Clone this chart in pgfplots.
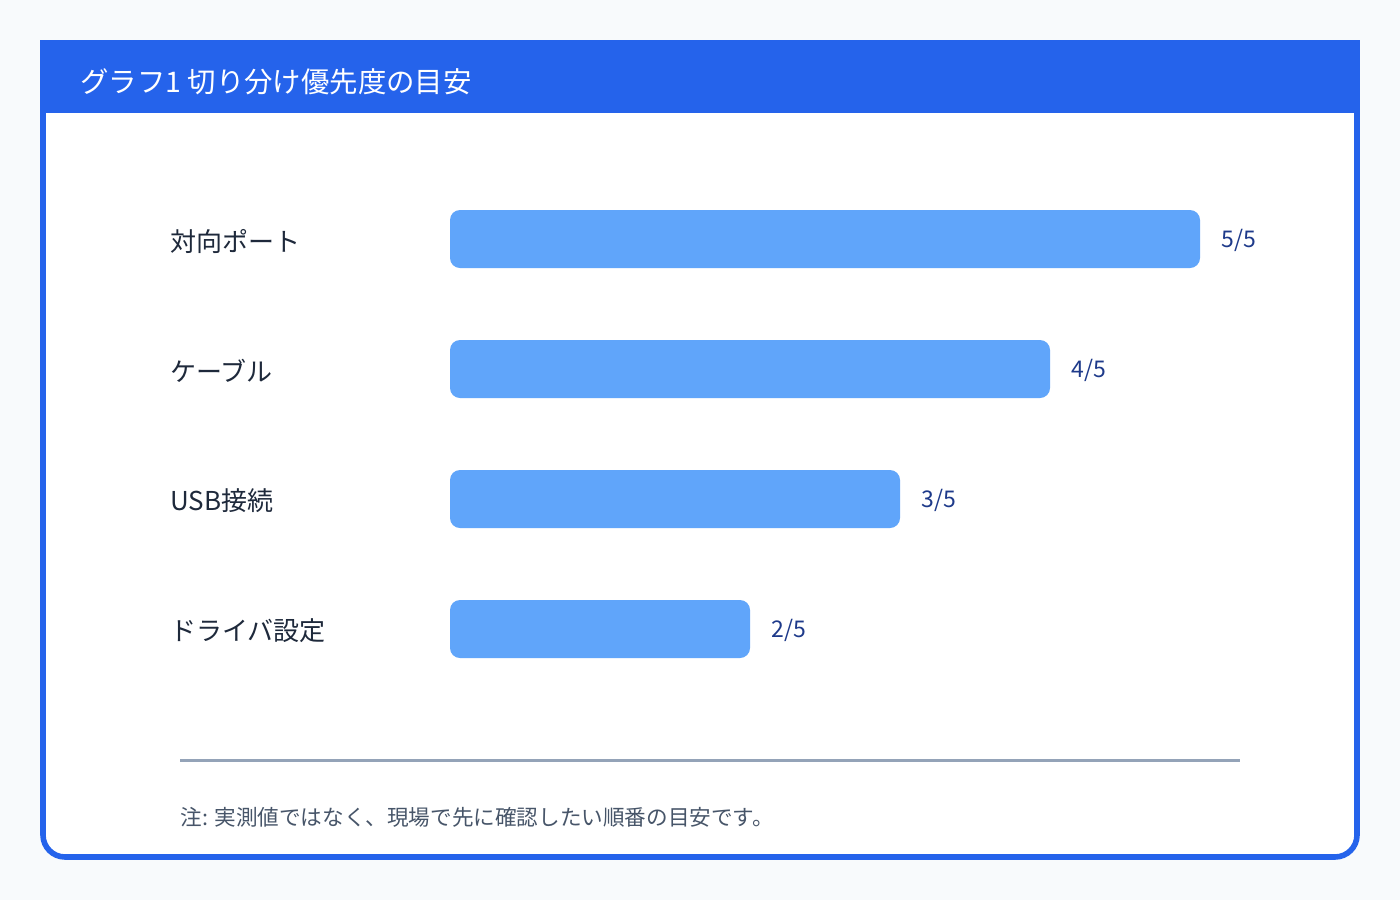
\documentclass[border=0pt]{standalone}
\usepackage{fontspec}
\setmainfont{Noto Sans CJK JP}
\usepackage{pgfplots}
\pgfplotsset{compat=1.18}
\definecolor{bgc}{HTML}{F8FAFC}
\definecolor{hdr}{HTML}{2563EB}
\definecolor{barc}{HTML}{60A5FA}
\definecolor{valc}{HTML}{1E3A8A}
\definecolor{catc}{HTML}{1E293B}
\definecolor{notec}{HTML}{475569}
\definecolor{linec}{HTML}{94A3B8}
\begin{document}
\begin{tikzpicture}[x=0.5pt,y=0.5pt]
\fill[bgc] (0,0) rectangle (1400,900);
\draw[hdr, line width=2.8pt, fill=white, rounded corners=11pt] (43,43) rectangle (1357,857);
\fill[hdr] (40,787) rectangle (1360,860);
\node[anchor=west, inner sep=0, text=white, font=\fontsize{14.2pt}{16pt}\selectfont] at (80,818) {グラフ1 切り分け優先度の目安};
\draw[linec, line width=1.5pt] (180,140) -- (1240,140);
\node[anchor=west, inner sep=0, text=notec, font=\fontsize{10.8pt}{13pt}\selectfont] at (180,83) {注: 実測値ではなく、現場で先に確認したい順番の目安です。};
\begin{axis}[
  at={(225pt,103pt)}, anchor=south west,
  scale only axis, width=375pt, height=260pt,
  xmin=0, xmax=5, ymin=-0.5, ymax=3.5, y dir=reverse,
  axis line style={draw=none}, major tick length=0pt,
  xtick=\empty, ytick={0,1,2,3},
  yticklabels={対向ポート,ケーブル,USB接続,ドライバ設定},
  yticklabel style={anchor=west, xshift=-140pt, yshift=-1pt, inner sep=0pt, text=catc, font=\fontsize{13pt}{15pt}\selectfont},
  clip=false,
  xbar, bar width=29pt,
  point meta=x,
  /pgf/number format/assume math mode=true,
  nodes near coords={\pgfmathprintnumber{\pgfplotspointmeta}/5},
  nodes near coords style={anchor=west, inner sep=0pt, xshift=10.5pt, yshift=-0.5pt, text=valc, font=\fontsize{11.5pt}{13pt}\selectfont},
]
\addplot[fill=barc, draw=none, rounded corners=5pt] coordinates {(5,0) (4,1) (3,2) (2,3)};
\end{axis}
\end{tikzpicture}
\end{document}
